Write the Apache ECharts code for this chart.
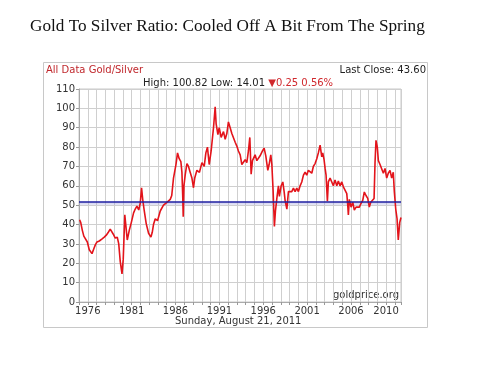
<!DOCTYPE html>
<html><head><meta charset="utf-8">
<script src="https://cdn.jsdelivr.net/npm/echarts@6/dist/echarts.min.js"></script>
<style>html,body{margin:0;padding:0;background:#fff}#c{width:490px;height:367px}</style>
</head><body><div id="c"></div>
<script>
const years = [1975.07,1975.20,1975.38,1975.55,1975.72,1975.95,1976.17,1976.48,1976.69,1976.86,
1977.05,1977.31,1977.60,1977.88,1978.11,1978.34,1978.56,1978.73,1978.91,1979.13,
1979.36,1979.53,1979.70,1979.90,1980.04,1980.22,1980.33,1980.50,1980.73,1980.96,
1981.22,1981.41,1981.60,1981.81,1981.98,1982.13,1982.26,1982.44,1982.66,1982.93,
1983.20,1983.35,1983.49,1983.69,1983.95,1984.26,1984.63,1985.02,1985.40,1985.57,
1985.77,1986.05,1986.23,1986.42,1986.61,1986.73,1986.82,1986.88,1986.96,1987.10,
1987.30,1987.48,1987.67,1987.87,1988.05,1988.19,1988.44,1988.73,1989.01,1989.27,
1989.46,1989.64,1989.84,1990.06,1990.33,1990.52,1990.63,1990.83,1990.98,1991.20,
1991.47,1991.66,1991.85,1992.03,1992.23,1992.42,1992.60,1992.80,1992.99,1993.17,
1993.37,1993.56,1993.74,1993.94,1994.13,1994.31,1994.47,1994.62,1994.77,1995.07,
1995.27,1995.45,1995.64,1995.91,1996.10,1996.29,1996.52,1996.67,1996.86,1996.98,
1997.12,1997.27,1997.39,1997.55,1997.73,1997.84,1998.04,1998.23,1998.38,1998.49,
1998.69,1998.87,1999.06,1999.25,1999.44,1999.63,1999.82,2000.01,2000.20,2000.39,
2000.58,2000.77,2000.96,2001.14,2001.34,2001.53,2001.71,2001.91,2002.10,2002.28,
2002.48,2002.67,2002.78,2002.93,2003.05,2003.16,2003.31,2003.42,2003.62,2003.81,
2003.99,2004.18,2004.38,2004.56,2004.75,2004.95,2005.13,2005.32,2005.52,2005.63,
2005.70,2005.81,2006.01,2006.20,2006.38,2006.58,2006.77,2006.95,2007.15,2007.34,
2007.52,2007.71,2007.91,2008.09,2008.25,2008.43,2008.63,2008.74,2008.85,2009.00,
2009.12,2009.31,2009.50,2009.69,2009.88,2010.07,2010.25,2010.45,2010.64,2010.82,
2010.94,2011.10,2011.25,2011.39,2011.55,2011.70];
const ratio = [42.5,41,37,34,33,31,27,25,27.5,29.5,
31,31.5,32.5,33.5,34.5,36,37.6,37,35,33,
33.5,30,21,14.5,22,45,40,32,37,41,
46,48,49.5,47.5,51,59,53,47,40.5,35.5,
33.5,36,40,43,42,47,50,51.5,53,55,
64,71,77,74,72.5,67,55,44,60,65.5,
71.5,70,67,64,59,64,68,67,72,70,
77,80,71,78,90,100.8,92,86.5,90,85,
88,84,87,93,90,87,88,82.5,80.5,78,
76,71,70,73.5,72,78,85,66,73,76,
73,74,75.5,78,79.5,75.5,68,71,76,71,
58,39,47,53.5,60,54.5,60,62,57,52.5,
48,57,58,57,58.8,57,58.8,57,60,62,
65.5,67,65.5,68,67,66.5,70,71.5,74,77,
81,75,77,73.5,69,65.5,52,62,64,62,
60,63,60,62.5,60,62,59.5,60,56,50,
45,53,49,51.5,47.5,49,50,49,51,52.5,
56.8,55,53.5,49,51.5,51,53.5,72,83.5,80,
73,71,72,66.5,69,64,66.5,68,64,67,
57,48,43,32,41,43.6];
const xLabels = [1976,1981,1986,1991,1996,2001,2006,2010];
const meanRatio = 51.6;
const bandLow = 50.2;
const xMin = 1975, xMax = 2011.7;
const yMin = 0, yMax = 110, yStep = 10;

const pts = years.map((y,i)=>[y, ratio[i]]);
const chart = echarts.init(document.getElementById('c'), null, {renderer:'canvas'});
const F = 'DejaVu Sans';
chart.setOption({
  animation:false,
  backgroundColor:'#fff',
  grid:{left:79,right:89,top:89,bottom:65,show:true,borderColor:'#c8c8c8',borderWidth:1,backgroundColor:'#fff'},
  xAxis:{type:'value',min:xMin,max:xMax,interval:1,
    axisLine:{show:true,lineStyle:{color:'#aaa'}},
    axisTick:{show:true,length:3,lineStyle:{color:'#999'}},
    splitLine:{show:true,lineStyle:{color:'#cfcfcf',width:1}},
    axisLabel:{customValues:xLabels,color:'#333',fontFamily:F,fontSize:10,margin:4,formatter:v=>String(v)}},
  yAxis:{type:'value',min:yMin,max:yMax,interval:yStep,
    axisLine:{show:true,lineStyle:{color:'#aaa'}},
    axisTick:{show:true,length:3,lineStyle:{color:'#999'}},
    splitLine:{show:true,lineStyle:{color:'#cfcfcf',width:1}},
    axisLabel:{color:'#333',fontFamily:F,fontSize:10,margin:4}},
  series:[{type:'line',data:pts,showSymbol:false,
    lineStyle:{color:'#e3141b',width:1.6},
    markArea:{silent:true,itemStyle:{color:'rgba(150,150,215,0.35)'},data:[[{yAxis:bandLow},{yAxis:meanRatio}]]},
    markLine:{silent:true,symbol:'none',label:{show:false},lineStyle:{color:'#1f1fa0',width:1.6,type:'solid'},data:[{yAxis:meanRatio}]}
  }],
  graphic:[
    {type:'text',left:30,top:18,style:{text:'Gold To Silver Ratio: Cooled Off A Bit From The Spring',font:'17.2px "Liberation Serif"',fill:'#111'}},
    {type:'rect',shape:{x:43.5,y:62.5,width:384,height:265},style:{fill:'none',stroke:'#c8c8c8',lineWidth:1},z:-1},
    {type:'text',left:46,top:65,style:{text:'All Data Gold/Silver',font:'10px "DejaVu Sans"',fill:'#c0282d'}},
    {type:'text',right:490-426,top:65,style:{text:'Last Close: 43.60',font:'10px "DejaVu Sans"',fill:'#222'}},
    {type:'text',left:143,top:78,style:{text:'{a|High: 100.82 Low: 14.01 }{b|▼0.25 0.56%}',rich:{a:{font:'10px "DejaVu Sans"',fill:'#222'},b:{font:'10px "DejaVu Sans"',fill:'#d0282d'}}}},
    {type:'text',right:490-399,top:290,style:{text:'goldprice.org',font:'10px "DejaVu Sans"',fill:'#333'}},
    {type:'text',left:175,top:316,style:{text:'Sunday, August 21, 2011',font:'10px "DejaVu Sans"',fill:'#333'}}
  ]
});
</script></body></html>
